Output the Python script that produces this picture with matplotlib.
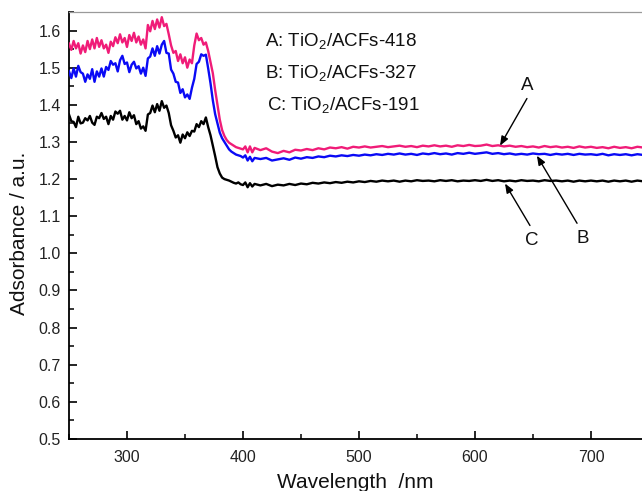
import numpy as np
import matplotlib
matplotlib.use("Agg")
import matplotlib.pyplot as plt
from matplotlib.ticker import MultipleLocator, FormatStrFormatter

plt.rcParams['font.family'] = ['Liberation Sans', 'DejaVu Sans']
plt.rcParams['mathtext.fontset'] = 'custom'
plt.rcParams['mathtext.rm'] = 'Liberation Sans'
plt.rcParams['mathtext.it'] = 'Liberation Sans:italic'

# ---------------- data ----------------
wl_uv = np.arange(250, 411, 2)      # 250..410 nm, 81 points
wl_vis = np.arange(415, 746, 5)     # 415..745 nm, 67 points
wavelength = np.concatenate([wl_uv, wl_vis])

abs_A_uv = [
    1.565, 1.548, 1.572, 1.552, 1.566, 1.538, 1.560, 1.542, 1.572, 1.550,
    1.576, 1.552, 1.580, 1.556, 1.574, 1.552, 1.562, 1.540, 1.570, 1.558,
    1.582, 1.566, 1.590, 1.568, 1.580, 1.556, 1.588, 1.572, 1.594, 1.568,
    1.584, 1.562, 1.576, 1.552, 1.615, 1.598, 1.626, 1.604, 1.630, 1.608,
    1.636, 1.612, 1.618, 1.590, 1.560, 1.540, 1.545, 1.518, 1.536, 1.512,
    1.528, 1.500, 1.522, 1.512, 1.560, 1.592, 1.574, 1.580, 1.562, 1.568,
    1.545, 1.515, 1.485, 1.440, 1.400, 1.360, 1.332, 1.316, 1.305, 1.298,
    1.294, 1.290, 1.286, 1.284, 1.282, 1.280, 1.288, 1.272, 1.288, 1.272,
    1.284]
abs_A_vis = [
    1.278, 1.283, 1.274, 1.270, 1.276, 1.272, 1.279, 1.277, 1.281, 1.278,
    1.283, 1.280, 1.285, 1.283, 1.286, 1.282, 1.287, 1.285, 1.288, 1.285,
    1.287, 1.289, 1.286, 1.288, 1.290, 1.287, 1.289, 1.286, 1.290, 1.288,
    1.291, 1.288, 1.290, 1.287, 1.291, 1.289, 1.292, 1.289, 1.290, 1.293,
    1.289, 1.291, 1.288, 1.290, 1.287, 1.289, 1.286, 1.288, 1.285, 1.289,
    1.286, 1.288, 1.285, 1.287, 1.284, 1.288, 1.285, 1.287, 1.284, 1.286,
    1.283, 1.287, 1.284, 1.286, 1.283, 1.287, 1.285]

abs_B_uv = [
    1.490, 1.472, 1.498, 1.476, 1.505, 1.488, 1.484, 1.462, 1.482, 1.470,
    1.496, 1.462, 1.490, 1.476, 1.498, 1.476, 1.502, 1.494, 1.518, 1.508,
    1.512, 1.490, 1.520, 1.532, 1.510, 1.514, 1.488, 1.508, 1.516, 1.498,
    1.504, 1.484, 1.500, 1.478, 1.525, 1.530, 1.552, 1.532, 1.558, 1.538,
    1.562, 1.572, 1.540, 1.538, 1.495, 1.484, 1.462, 1.460, 1.432, 1.442,
    1.420, 1.428, 1.416, 1.446, 1.470, 1.510, 1.516, 1.536, 1.532, 1.535,
    1.498, 1.458, 1.412, 1.375, 1.350, 1.325, 1.310, 1.300, 1.290, 1.280,
    1.274, 1.270, 1.266, 1.264, 1.262, 1.258, 1.264, 1.250, 1.260, 1.248,
    1.257]
abs_B_vis = [
    1.254, 1.257, 1.250, 1.253, 1.256, 1.252, 1.258, 1.255, 1.259, 1.257,
    1.261, 1.259, 1.263, 1.261, 1.264, 1.262, 1.265, 1.263, 1.266, 1.264,
    1.267, 1.265, 1.268, 1.266, 1.269, 1.266, 1.268, 1.265, 1.269, 1.267,
    1.270, 1.267, 1.269, 1.266, 1.270, 1.268, 1.271, 1.268, 1.270, 1.272,
    1.268, 1.270, 1.267, 1.269, 1.266, 1.268, 1.266, 1.269, 1.267, 1.268,
    1.265, 1.268, 1.266, 1.268, 1.265, 1.268, 1.266, 1.267, 1.265, 1.268,
    1.264, 1.267, 1.265, 1.267, 1.264, 1.267, 1.265]

abs_C_uv = [
    1.374, 1.356, 1.354, 1.340, 1.368, 1.350, 1.352, 1.364, 1.358, 1.370,
    1.352, 1.346, 1.368, 1.364, 1.378, 1.362, 1.368, 1.348, 1.370, 1.360,
    1.382, 1.376, 1.384, 1.360, 1.370, 1.358, 1.380, 1.364, 1.372, 1.348,
    1.356, 1.336, 1.342, 1.330, 1.374, 1.378, 1.398, 1.380, 1.402, 1.384,
    1.410, 1.392, 1.398, 1.378, 1.345, 1.330, 1.312, 1.318, 1.298, 1.320,
    1.310, 1.326, 1.316, 1.330, 1.328, 1.348, 1.340, 1.356, 1.348, 1.366,
    1.340, 1.318, 1.290, 1.262, 1.232, 1.215, 1.204, 1.200, 1.198, 1.196,
    1.193, 1.190, 1.188, 1.191, 1.186, 1.184, 1.191, 1.178, 1.189, 1.180,
    1.187]
abs_C_vis = [
    1.183, 1.187, 1.181, 1.185, 1.183, 1.187, 1.184, 1.188, 1.186, 1.190,
    1.188, 1.191, 1.189, 1.192, 1.190, 1.193, 1.191, 1.194, 1.192, 1.195,
    1.193, 1.196, 1.194, 1.196, 1.193, 1.196, 1.194, 1.197, 1.195, 1.196,
    1.194, 1.197, 1.195, 1.197, 1.194, 1.196, 1.195, 1.197, 1.195, 1.198,
    1.195, 1.197, 1.194, 1.196, 1.194, 1.197, 1.195, 1.196, 1.194, 1.197,
    1.195, 1.196, 1.194, 1.196, 1.193, 1.196, 1.194, 1.196, 1.194, 1.196,
    1.193, 1.196, 1.194, 1.196, 1.193, 1.196, 1.194]

series_names = ["A: TiO$_2$/ACFs-418", "B: TiO$_2$/ACFs-327", "C: TiO$_2$/ACFs-191"]
series_colors = ["#F01C78", "#0A0AF5", "#000000"]
series_values = [abs_A_uv + abs_A_vis, abs_B_uv + abs_B_vis, abs_C_uv + abs_C_vis]

yticks = [0.5, 0.6, 0.7, 0.8, 0.9, 1.0, 1.1, 1.2, 1.3, 1.4, 1.5, 1.6]
xticks = [300, 400, 500, 600, 700]

# ---------------- figure ----------------
fig = plt.figure(figsize=(6.42, 4.91), dpi=100)
ax = fig.add_axes([69 / 642, 1 - 439 / 491, 573 / 642, 427 / 491])

for vals, col in zip(series_values, series_colors):
    ax.plot(wavelength, vals, color=col, lw=1.7, zorder=3)

ax.set_xlim(250, 744)
ax.set_ylim(0.5, 1.65)
ax.set_xticks(xticks)
ax.set_yticks(yticks)
ax.xaxis.set_minor_locator(MultipleLocator(50))
ax.yaxis.set_minor_locator(MultipleLocator(0.05))
ax.yaxis.set_major_formatter(FormatStrFormatter('%.1f'))

ax.tick_params(which='major', direction='in', length=6, width=1.2,
               labelsize=11.5, colors='black', labelcolor='#222222')
ax.tick_params(axis='x', which='major', pad=8)
ax.tick_params(axis='y', which='major', pad=6)
ax.tick_params(which='minor', direction='in', length=3.5, width=1.1)

for s in ('left', 'bottom'):
    ax.spines[s].set_linewidth(1.3)
    ax.spines[s].set_color('black')
ax.spines['top'].set_color('#9a9a9a')
ax.spines['top'].set_linewidth(0.9)
ax.spines['right'].set_visible(False)

ax.set_xlabel('Wavelength  /nm', fontsize=15, color='#111111')
ax.xaxis.set_label_coords(0.5, -0.079)
ax.set_ylabel('Adsorbance / a.u.', fontsize=15, color='#111111')
ax.yaxis.set_label_coords(-0.07, 0.481)

# legend-like text block
legend_y = [1.573, 1.487, 1.400]
legend_x = [419.0, 419.0, 420.5]
for name, lx, ly in zip(series_names, legend_x, legend_y):
    ax.text(lx, ly, name, fontsize=13.5, ha='left', va='center', color='#111111')

# arrow labels
labels = ["A", "B", "C"]
label_pos = [(644.8, 1.452), (693.0, 1.040), (649.0, 1.035)]
arrow_tail = [(644.8, 1.417), (688.0, 1.081), (647.4, 1.075)]
arrow_head = [(621.6, 1.290), (653.4, 1.263), (625.9, 1.188)]
for lab, lp, tl, hd in zip(labels, label_pos, arrow_tail, arrow_head):
    ax.text(lp[0], lp[1], lab, fontsize=13.5, ha='center', va='center', color='#111111')
    ax.annotate('', xy=hd, xytext=tl,
                arrowprops=dict(arrowstyle='-|>,head_length=0.55,head_width=0.22',
                                color='black', lw=1.0, shrinkA=0, shrinkB=0),
                zorder=5)

fig.savefig('out.png', dpi=100)
